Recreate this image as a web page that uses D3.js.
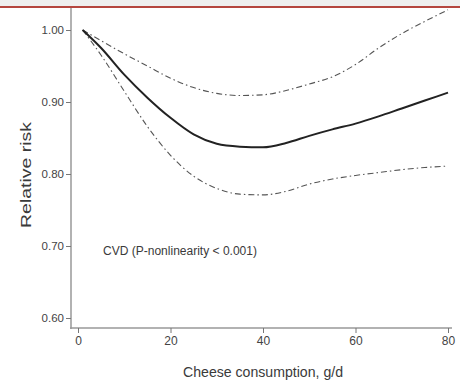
<!DOCTYPE html>
<html>
<head>
<meta charset="utf-8">
<script src="https://cdn.jsdelivr.net/npm/d3@7"></script>
<style>
  html, body { margin: 0; padding: 0; background: #fff; }
  svg { display: block; }
  text { font-family: "Liberation Sans", Arial, Helvetica, sans-serif; fill: #3a3a3a; }
</style>
</head>
<body>
<svg id="chart" width="460" height="380"></svg>
<script>
// Cheese intake (g/d) and pooled relative risk of CVD with 95% CI
const intake = [1, 5, 10, 15, 20, 25, 30, 35, 40, 45, 50, 55, 60, 65, 70, 75, 80];
const rr     = [1.000, 0.975, 0.938, 0.906, 0.878, 0.855, 0.842, 0.838, 0.837, 0.843, 0.853, 0.862, 0.870, 0.880, 0.891, 0.902, 0.913];
const upper  = [1.000, 0.985, 0.967, 0.950, 0.933, 0.920, 0.912, 0.909, 0.910, 0.916, 0.925, 0.935, 0.952, 0.975, 0.995, 1.012, 1.028];
const lower  = [1.000, 0.965, 0.915, 0.866, 0.826, 0.797, 0.780, 0.772, 0.771, 0.776, 0.786, 0.793, 0.798, 0.802, 0.806, 0.809, 0.811];

const xTicks = [0, 20, 40, 60, 80];
const yTicks = [0.60, 0.70, 0.80, 0.90, 1.00];
const note = "CVD (P-nonlinearity < 0.001)";
const xTitle = "Cheese consumption, g/d";
const yTitle = "Relative risk";

const svg = d3.select("#chart");

// header strip
svg.append("rect").attr("x", 0).attr("y", 0).attr("width", 460).attr("height", 6).attr("fill", "#efefef");
svg.append("rect").attr("x", 0).attr("y", 6).attr("width", 460).attr("height", 2).attr("fill", "#b5463f");

const x = d3.scaleLinear().domain([0, 80]).range([78, 448]);
const y = d3.scaleLinear().domain([0.60, 1.00]).range([318, 30]);

const axisColor = "#999";

// axis lines
svg.append("line").attr("x1", 71).attr("x2", 71).attr("y1", 8).attr("y2", 329)
  .attr("stroke", axisColor).attr("stroke-width", 1.5);
svg.append("line").attr("x1", 70).attr("x2", 452).attr("y1", 328).attr("y2", 328)
  .attr("stroke", axisColor).attr("stroke-width", 1.5);

// y axis
const yAxis = svg.append("g").attr("transform", "translate(71,0)")
  .call(d3.axisLeft(y).tickValues(yTicks).tickFormat(d3.format(".2f")).tickSize(5).tickPadding(2));
yAxis.select(".domain").remove();
yAxis.selectAll(".tick line").attr("stroke", "#777");
yAxis.selectAll(".tick text").style("font-size", "11.5px").style("fill", "#444")
  .style("font-family", "'Liberation Sans', Arial, sans-serif");

// x axis
const xAxis = svg.append("g").attr("transform", "translate(0,328)")
  .call(d3.axisBottom(x).tickValues(xTicks).tickFormat(d3.format("d")).tickSize(5).tickPadding(3));
xAxis.select(".domain").remove();
xAxis.selectAll(".tick line").attr("stroke", "#777");
xAxis.selectAll(".tick text").style("font-size", "12px").style("fill", "#444")
  .style("font-family", "'Liberation Sans', Arial, sans-serif");

// axis titles
svg.append("text").attr("x", 263).attr("y", 377).attr("text-anchor", "middle")
  .attr("textLength", 160).attr("lengthAdjust", "spacingAndGlyphs")
  .style("font-size", "14px").text(xTitle);
svg.append("text").attr("transform", "translate(31,175) rotate(-90)").attr("text-anchor", "middle")
  .attr("textLength", 106).attr("lengthAdjust", "spacingAndGlyphs")
  .style("font-size", "14px").text(yTitle);

// curves
const line = vals => d3.line()
  .x((d, i) => x(intake[i]))
  .y(d => y(d))
  .curve(d3.curveMonotoneX)(vals);

svg.append("path").attr("d", line(upper)).attr("fill", "none")
  .attr("stroke", "#555").attr("stroke-width", 1.1).attr("stroke-dasharray", "6,3,1.5,3");
svg.append("path").attr("d", line(lower)).attr("fill", "none")
  .attr("stroke", "#555").attr("stroke-width", 1.1).attr("stroke-dasharray", "6,3,1.5,3");
svg.append("path").attr("d", line(rr)).attr("fill", "none")
  .attr("stroke", "#222").attr("stroke-width", 2);

// annotation
svg.append("text").attr("x", 103).attr("y", 255)
  .attr("textLength", 154).attr("lengthAdjust", "spacingAndGlyphs")
  .style("font-size", "12px").text(note);
</script>
</body>
</html>
